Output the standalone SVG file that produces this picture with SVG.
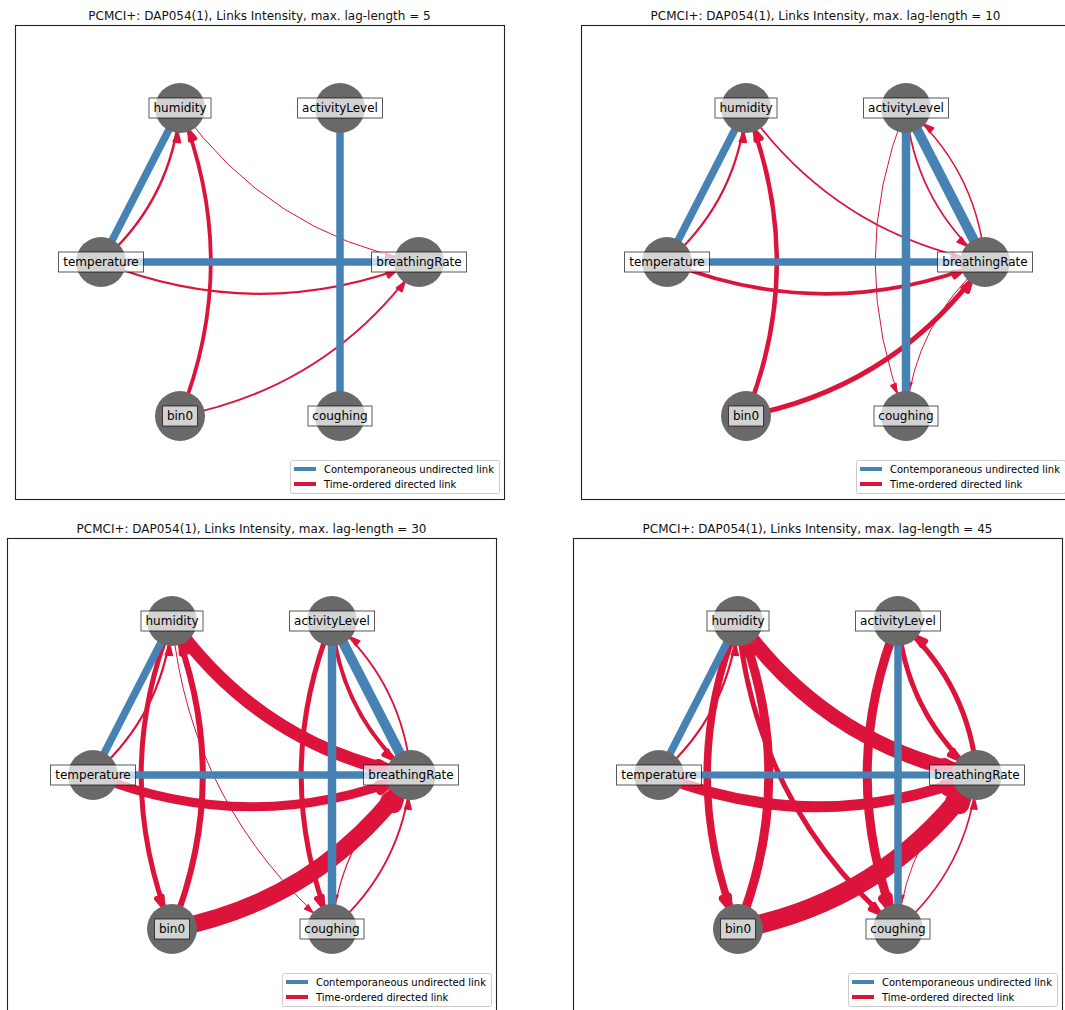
<svg xmlns="http://www.w3.org/2000/svg" xmlns:xlink="http://www.w3.org/1999/xlink" width="1065" height="1010" viewBox="0 0 1065 1010">
  <style>
    .frame { fill: none; stroke: #222; stroke-width: 1.1; }
    .ttl { font-family: "DejaVu Sans", "Liberation Sans", sans-serif; font-size: 12px; text-anchor: middle; fill: #111; }
    .lk { fill: none; stroke: #dc143c; }
    .hd { fill: #dc143c; stroke: #dc143c; stroke-linejoin: round; }
    .ud { stroke: #4682b4; stroke-linecap: butt; }
    .nd circle { fill: #696969; }
    .nd rect { fill: #fff; fill-opacity: 0.7; stroke: #000; stroke-opacity: 0.65; stroke-width: 1; }
    .nd text { font-family: "DejaVu Sans", "Liberation Sans", sans-serif; font-size: 12px; text-anchor: middle; fill: #000; }
    .lg rect { fill: #fff; fill-opacity: 0.8; stroke: #ccc; stroke-width: 1; }
    .lg text { font-family: "DejaVu Sans", "Liberation Sans", sans-serif; font-size: 10px; fill: #000; }
  </style>
  <defs>
    <!-- arrowhead, tip at origin pointing along +x -->
    <path id="ah" d="M0,0 L-9,-3.1 L-9,3.1 Z"/>
    <!-- curved links (arc3, rad 0.2), centre to centre -->
    <path id="eTH" d="M101,262 Q171.3,200.8 180,108"/>
    <path id="eNH" d="M180,416 Q241.6,262 180,108"/>
    <path id="eHB" d="M180,108 Q268.7,232.8 419,262"/>
    <path id="eTB" d="M101,262 Q260,325.6 419,262"/>
    <path id="eNB" d="M180,416 Q330.3,386.8 419,262"/>
    <path id="eAB" d="M340,108 Q348.7,200.8 419,262"/>
    <path id="eBA" d="M419,262 Q410.3,169.2 340,108"/>
    <path id="eAC" d="M340,108 Q278.4,262 340,416"/>
    <path id="eBC" d="M419,262 Q348.7,323.2 340,416"/>
    <path id="eCB" d="M340,416 Q410.3,354.8 419,262"/>
    <path id="eHN" d="M180,108 Q118.4,262 180,416"/>
    <path id="eHC" d="M180,108 Q198.4,294 340,416"/>
    <!-- arrowheads placed on the target node rim -->
    <use id="hTH" xlink:href="#ah" transform="translate(177.67,132.89) rotate(-84.65)"/>
    <use id="hNH" xlink:href="#ah" transform="translate(189.29,131.21) rotate(-111.8)"/>
    <use id="hHB" xlink:href="#ah" transform="translate(394.46,257.23) rotate(10.99)"/>
    <use id="hTB" xlink:href="#ah" transform="translate(395.79,271.29) rotate(-21.8)"/>
    <use id="hNB" xlink:href="#ah" transform="translate(404.52,282.38) rotate(-54.6)"/>
    <use id="hAB" xlink:href="#ah" transform="translate(400.14,245.58) rotate(41.04)"/>
    <use id="hBA" xlink:href="#ah" transform="translate(358.86,124.42) rotate(-138.96)"/>
    <use id="hAC" xlink:href="#ah" transform="translate(330.71,392.79) rotate(68.2)"/>
    <use id="hBC" xlink:href="#ah" transform="translate(342.33,391.11) rotate(95.35)"/>
    <use id="hCB" xlink:href="#ah" transform="translate(416.67,286.89) rotate(-84.65)"/>
    <use id="hHN" xlink:href="#ah" transform="translate(170.71,392.79) rotate(68.2)"/>
    <use id="hHC" xlink:href="#ah" transform="translate(321.06,399.68) rotate(40.75)"/>
    <!-- legend box -->
    <g id="legend" class="lg">
      <rect x="290.5" y="460.5" width="209" height="33" rx="2"/>
      <line x1="294" y1="469" x2="316" y2="469" stroke="#4682b4" stroke-width="4"/>
      <line x1="294" y1="484" x2="316" y2="484" stroke="#dc143c" stroke-width="4"/>
      <text x="324" y="472.5">Contemporaneous undirected link</text>
      <text x="324" y="487.5">Time-ordered directed link</text>
    </g>
    <!-- node set: circle plus label box -->
    <g id="nH" class="nd"><circle cx="180" cy="108" r="25"/><rect x="149" y="98" width="62" height="20"/><text x="180" y="112">humidity</text></g>
    <g id="nA" class="nd"><circle cx="340" cy="108" r="25"/><rect x="297.5" y="98" width="85" height="20"/><text x="340" y="112">activityLevel</text></g>
    <g id="nT" class="nd"><circle cx="101" cy="262" r="25"/><rect x="58.5" y="252" width="85" height="20"/><text x="101" y="266">temperature</text></g>
    <g id="nB" class="nd"><circle cx="419" cy="262" r="25"/><rect x="371.5" y="252" width="95" height="20"/><text x="419" y="266">breathingRate</text></g>
    <g id="nN" class="nd"><circle cx="180" cy="416" r="25"/><rect x="162.5" y="406" width="35" height="20"/><text x="180" y="420">bin0</text></g>
    <g id="nC" class="nd"><circle cx="340" cy="416" r="25"/><rect x="308" y="406" width="64" height="20"/><text x="340" y="420">coughing</text></g>
  </defs>

  <rect width="1065" height="1010" fill="#fff"/>

  <!-- lag 5 -->
  <g id="panel-lag5">
    <text class="ttl" x="259.5" y="19.5">PCMCI+: DAP054(1), Links Intensity, max. lag-length = 5</text>
    <rect class="frame" x="15.5" y="25.5" width="489" height="474"/>
    <g id="lag5-links">
      <g style="stroke-width:2.6"><use xlink:href="#eTH" class="lk"/><use xlink:href="#hTH" class="hd"/></g>
      <g style="stroke-width:3.8"><use xlink:href="#eNH" class="lk"/><use xlink:href="#hNH" class="hd"/></g>
      <g style="stroke-width:1"><use xlink:href="#eHB" class="lk"/><use xlink:href="#hHB" class="hd"/></g>
      <g style="stroke-width:2.2"><use xlink:href="#eTB" class="lk"/><use xlink:href="#hTB" class="hd"/></g>
      <g style="stroke-width:2"><use xlink:href="#eNB" class="lk"/><use xlink:href="#hNB" class="hd"/></g>
      <line class="ud" x1="180" y1="108" x2="101" y2="262" stroke-width="7.5"/>
      <line class="ud" x1="101" y1="262" x2="419" y2="262" stroke-width="7.5"/>
      <line class="ud" x1="340" y1="108" x2="340" y2="416" stroke-width="7.5"/>
    </g>
    <g id="lag5-humidity"><use xlink:href="#nH"/></g>
    <g id="lag5-activityLevel"><use xlink:href="#nA"/></g>
    <g id="lag5-temperature"><use xlink:href="#nT"/></g>
    <g id="lag5-breathingRate"><use xlink:href="#nB"/></g>
    <g id="lag5-bin0"><use xlink:href="#nN"/></g>
    <g id="lag5-coughing"><use xlink:href="#nC"/></g>
    <use xlink:href="#legend"/>
  </g>

  <!-- lag 10 -->
  <g id="panel-lag10" transform="translate(566,0)">
    <text class="ttl" x="259.5" y="19.5">PCMCI+: DAP054(1), Links Intensity, max. lag-length = 10</text>
    <rect class="frame" x="15.5" y="25.5" width="489" height="474"/>
    <g id="lag10-links">
      <g style="stroke-width:2.3"><use xlink:href="#eTH" class="lk"/><use xlink:href="#hTH" class="hd"/></g>
      <g style="stroke-width:4.5"><use xlink:href="#eNH" class="lk"/><use xlink:href="#hNH" class="hd"/></g>
      <g style="stroke-width:1.7"><use xlink:href="#eHB" class="lk"/><use xlink:href="#hHB" class="hd"/></g>
      <g style="stroke-width:3.8"><use xlink:href="#eTB" class="lk"/><use xlink:href="#hTB" class="hd"/></g>
      <g style="stroke-width:4.8"><use xlink:href="#eNB" class="lk"/><use xlink:href="#hNB" class="hd"/></g>
      <g style="stroke-width:1.8"><use xlink:href="#eAB" class="lk"/><use xlink:href="#hAB" class="hd"/></g>
      <g style="stroke-width:1.6"><use xlink:href="#eBA" class="lk"/><use xlink:href="#hBA" class="hd"/></g>
      <g style="stroke-width:1"><use xlink:href="#eAC" class="lk"/><use xlink:href="#hAC" class="hd"/></g>
      <g style="stroke-width:1"><use xlink:href="#eBC" class="lk"/><use xlink:href="#hBC" class="hd"/></g>
      <line class="ud" x1="180" y1="108" x2="101" y2="262" stroke-width="7.5"/>
      <line class="ud" x1="101" y1="262" x2="419" y2="262" stroke-width="7.5"/>
      <line class="ud" x1="340" y1="108" x2="340" y2="416" stroke-width="8.5"/>
      <line class="ud" x1="340" y1="108" x2="419" y2="262" stroke-width="10"/>
    </g>
    <g id="lag10-humidity"><use xlink:href="#nH"/></g>
    <g id="lag10-activityLevel"><use xlink:href="#nA"/></g>
    <g id="lag10-temperature"><use xlink:href="#nT"/></g>
    <g id="lag10-breathingRate"><use xlink:href="#nB"/></g>
    <g id="lag10-bin0"><use xlink:href="#nN"/></g>
    <g id="lag10-coughing"><use xlink:href="#nC"/></g>
    <use xlink:href="#legend"/>
  </g>

  <!-- lag 30 -->
  <g id="panel-lag30" transform="translate(-8,513)">
    <text class="ttl" x="259.5" y="19.5">PCMCI+: DAP054(1), Links Intensity, max. lag-length = 30</text>
    <rect class="frame" x="15.5" y="25.5" width="489" height="474"/>
    <g id="lag30-links">
      <g style="stroke-width:2.3"><use xlink:href="#eTH" class="lk"/><use xlink:href="#hTH" class="hd"/></g>
      <g style="stroke-width:5"><use xlink:href="#eHN" class="lk"/><use xlink:href="#hHN" class="hd"/></g>
      <g style="stroke-width:6"><use xlink:href="#eNH" class="lk"/><use xlink:href="#hNH" class="hd"/></g>
      <g style="stroke-width:13"><use xlink:href="#eHB" class="lk"/><use xlink:href="#hHB" class="hd"/></g>
      <g style="stroke-width:1"><use xlink:href="#eHC" class="lk"/><use xlink:href="#hHC" class="hd"/></g>
      <g style="stroke-width:9"><use xlink:href="#eTB" class="lk"/><use xlink:href="#hTB" class="hd"/></g>
      <g style="stroke-width:17"><use xlink:href="#eNB" class="lk"/><use xlink:href="#hNB" class="hd"/></g>
      <g style="stroke-width:4"><use xlink:href="#eAB" class="lk"/><use xlink:href="#hAB" class="hd"/></g>
      <g style="stroke-width:1.8"><use xlink:href="#eBA" class="lk"/><use xlink:href="#hBA" class="hd"/></g>
      <g style="stroke-width:5"><use xlink:href="#eAC" class="lk"/><use xlink:href="#hAC" class="hd"/></g>
      <g style="stroke-width:1.2"><use xlink:href="#eBC" class="lk"/><use xlink:href="#hBC" class="hd"/></g>
      <g style="stroke-width:2"><use xlink:href="#eCB" class="lk"/><use xlink:href="#hCB" class="hd"/></g>
      <line class="ud" x1="180" y1="108" x2="101" y2="262" stroke-width="7.5"/>
      <line class="ud" x1="101" y1="262" x2="419" y2="262" stroke-width="7.5"/>
      <line class="ud" x1="340" y1="108" x2="340" y2="416" stroke-width="8.5"/>
      <line class="ud" x1="340" y1="108" x2="419" y2="262" stroke-width="10"/>
    </g>
    <g id="lag30-humidity"><use xlink:href="#nH"/></g>
    <g id="lag30-activityLevel"><use xlink:href="#nA"/></g>
    <g id="lag30-temperature"><use xlink:href="#nT"/></g>
    <g id="lag30-breathingRate"><use xlink:href="#nB"/></g>
    <g id="lag30-bin0"><use xlink:href="#nN"/></g>
    <g id="lag30-coughing"><use xlink:href="#nC"/></g>
    <use xlink:href="#legend"/>
  </g>

  <!-- lag 45 -->
  <g id="panel-lag45" transform="translate(558,513)">
    <text class="ttl" x="259.5" y="19.5">PCMCI+: DAP054(1), Links Intensity, max. lag-length = 45</text>
    <rect class="frame" x="15.5" y="25.5" width="489" height="474"/>
    <g id="lag45-links">
      <g style="stroke-width:2.3"><use xlink:href="#eTH" class="lk"/><use xlink:href="#hTH" class="hd"/></g>
      <g style="stroke-width:7.5"><use xlink:href="#eHN" class="lk"/><use xlink:href="#hHN" class="hd"/></g>
      <g style="stroke-width:9"><use xlink:href="#eNH" class="lk"/><use xlink:href="#hNH" class="hd"/></g>
      <g style="stroke-width:15"><use xlink:href="#eHB" class="lk"/><use xlink:href="#hHB" class="hd"/></g>
      <g style="stroke-width:5"><use xlink:href="#eHC" class="lk"/><use xlink:href="#hHC" class="hd"/></g>
      <g style="stroke-width:11"><use xlink:href="#eTB" class="lk"/><use xlink:href="#hTB" class="hd"/></g>
      <g style="stroke-width:19"><use xlink:href="#eNB" class="lk"/><use xlink:href="#hNB" class="hd"/></g>
      <g style="stroke-width:5"><use xlink:href="#eAB" class="lk"/><use xlink:href="#hAB" class="hd"/></g>
      <g style="stroke-width:5"><use xlink:href="#eBA" class="lk"/><use xlink:href="#hBA" class="hd"/></g>
      <g style="stroke-width:9"><use xlink:href="#eAC" class="lk"/><use xlink:href="#hAC" class="hd"/></g>
      <g style="stroke-width:1"><use xlink:href="#eBC" class="lk"/><use xlink:href="#hBC" class="hd"/></g>
      <g style="stroke-width:1.7"><use xlink:href="#eCB" class="lk"/><use xlink:href="#hCB" class="hd"/></g>
      <line class="ud" x1="180" y1="108" x2="101" y2="262" stroke-width="7.5"/>
      <line class="ud" x1="101" y1="262" x2="419" y2="262" stroke-width="7"/>
      <line class="ud" x1="340" y1="108" x2="340" y2="416" stroke-width="7.5"/>
    </g>
    <g id="lag45-humidity"><use xlink:href="#nH"/></g>
    <g id="lag45-activityLevel"><use xlink:href="#nA"/></g>
    <g id="lag45-temperature"><use xlink:href="#nT"/></g>
    <g id="lag45-breathingRate"><use xlink:href="#nB"/></g>
    <g id="lag45-bin0"><use xlink:href="#nN"/></g>
    <g id="lag45-coughing"><use xlink:href="#nC"/></g>
    <use xlink:href="#legend"/>
  </g>
</svg>
